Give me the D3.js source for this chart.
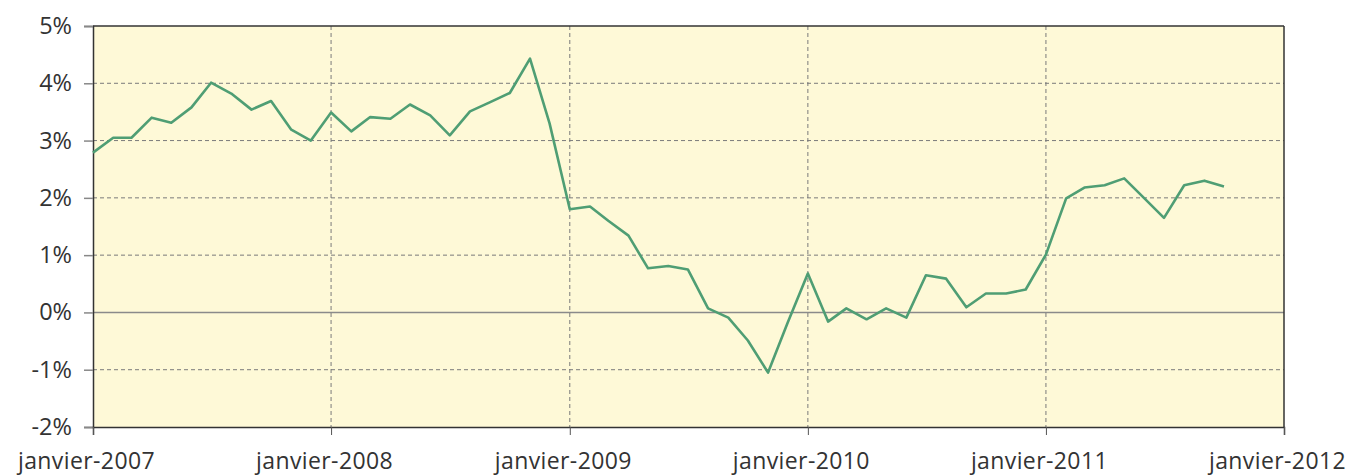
<!DOCTYPE html>
<html>
<head>
<meta charset="utf-8">
<script src="https://cdn.jsdelivr.net/npm/d3@7"></script>
<style>
  body { margin: 0; background: #fff; }
  text { font-family: "Open Sans", Lato, sans-serif; fill: #333; }
</style>
</head>
<body>
<div id="chart"></div>
<script>
// Données mensuelles (glissement annuel, %)
const startYear = 2007
const values = [
  2.79, 3.05, 3.05, 3.40, 3.31, 3.58, 4.01, 3.82, 3.54, 3.69, 3.19, 3.00,
  3.49, 3.16, 3.41, 3.38, 3.63, 3.44, 3.09, 3.51, 3.67, 3.83, 4.43, 3.30,
  1.80, 1.85, 1.60, 1.34, 0.77, 0.81, 0.75, 0.07, -0.09, -0.49, -1.05, -0.18,
  0.68, -0.16, 0.07, -0.12, 0.07, -0.09, 0.65, 0.59, 0.09, 0.33, 0.33, 0.40,
  1.01, 1.99, 2.18, 2.22, 2.34, 1.99, 1.65, 2.22, 2.30, 2.20
]
const yTicks = [-2, -1, 0, 1, 2, 3, 4, 5]
const xTickYears = [2007, 2008, 2009, 2010, 2011, 2012]

const data = values.map((v, i) => ({ date: new Date(startYear, i, 1), value: v }))

const width = 1352
const height = 475
const margin = { top: 26, bottom: 48, left: 93, right: 68 }

const svg = d3.select("#chart")
  .append("svg")
  .attr("width", width)
  .attr("height", height)

const x = d3.scaleTime()
  .domain([new Date(2007, 0, 1), new Date(2012, 0, 1)])
  .range([margin.left, width - margin.right])
const y = d3.scaleLinear()
  .domain([-2, 5])
  .range([height - margin.bottom, margin.top])

// Fond
svg.append("rect")
  .attr("x", margin.left)
  .attr("y", margin.top)
  .attr("width", width - margin.left - margin.right)
  .attr("height", height - margin.top - margin.bottom)
  .attr("fill", "#fef9d7")

// Grille horizontale
svg.append("g")
  .selectAll("line")
  .data(yTicks.filter(d => d > -2 && d < 5))
  .join("line")
  .attr("x1", margin.left)
  .attr("x2", width - margin.right)
  .attr("y1", d => y(d))
  .attr("y2", d => y(d))
  .attr("stroke", d => d === 0 ? "#8a8a8a" : "#7a7a7a")
  .attr("stroke-width", d => d === 0 ? 1.6 : 1)
  .attr("stroke-dasharray", d => d === 0 ? null : "4,3")

// Grille verticale
svg.append("g")
  .selectAll("line")
  .data(xTickYears.slice(1, -1))
  .join("line")
  .attr("x1", d => x(new Date(d, 0, 1)))
  .attr("x2", d => x(new Date(d, 0, 1)))
  .attr("y1", margin.top)
  .attr("y2", height - margin.bottom)
  .attr("stroke", "#7a7a7a")
  .attr("stroke-dasharray", "4,3")

// Cadre
const frame = svg.append("g").attr("stroke", "#333").attr("stroke-width", 1.5)
frame.append("line")
  .attr("x1", margin.left).attr("x2", width - margin.right)
  .attr("y1", margin.top).attr("y2", margin.top)
frame.append("line")
  .attr("x1", width - margin.right).attr("x2", width - margin.right)
  .attr("y1", margin.top).attr("y2", height - margin.bottom)

// Axes
const yAxis = d3.axisLeft(y)
  .tickValues(yTicks)
  .tickSize(9)
  .tickPadding(12)
  .tickFormat(d => d + "%")
const yAxisGroup = svg.append("g")
  .attr("transform", `translate(${margin.left},0)`)
  .call(yAxis)
yAxisGroup.select(".domain").attr("stroke", "#333").attr("stroke-width", 1.5)
yAxisGroup.selectAll(".tick line").attr("stroke", "#888").attr("stroke-width", 1.5)
yAxisGroup.selectAll("text").attr("font-size", 23.5).attr("fill", "#333")

const xAxis = d3.axisBottom(x)
  .tickValues(xTickYears.map(d => new Date(d, 0, 1)))
  .tickSize(8)
  .tickPadding(18)
  .tickFormat(d => "janvier-" + d.getFullYear())
const xAxisGroup = svg.append("g")
  .attr("transform", `translate(0,${height - margin.bottom})`)
  .call(xAxis)
xAxisGroup.select(".domain").attr("stroke", "#333").attr("stroke-width", 1.5)
xAxisGroup.selectAll(".tick line").attr("stroke", "#555")
xAxisGroup.selectAll("text")
  .attr("font-size", 23)
  .attr("fill", "#333")
  .attr("dx", -7)
  .attr("letter-spacing", 0.4)

// Courbe
svg.append("path")
  .datum(data)
  .attr("fill", "none")
  .attr("stroke", "#4f9e74")
  .attr("stroke-width", 2.6)
  .attr("stroke-linejoin", "round")
  .attr("d", d3.line()
    .x(d => x(d.date))
    .y(d => y(d.value)))
</script>
</body>
</html>
